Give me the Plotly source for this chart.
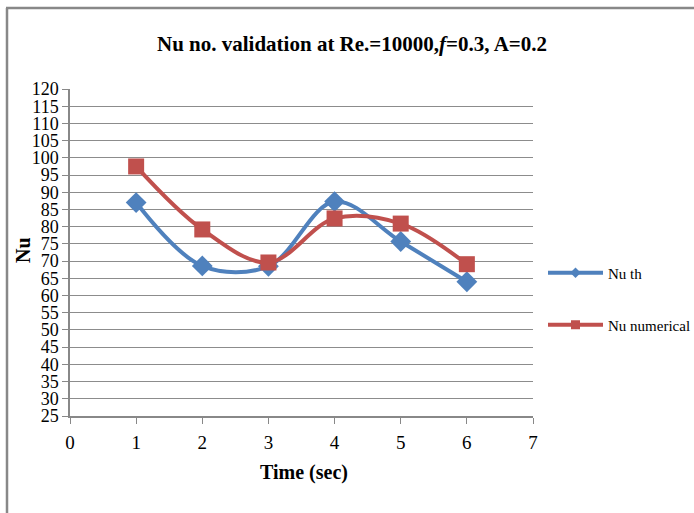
import plotly.graph_objects as go

time_sec = [1, 2, 3, 4, 5, 6]
nu_th = [87.0, 68.6, 68.5, 87.3, 75.7, 64.0]
nu_numerical = [97.5, 79.2, 69.6, 82.4, 80.9, 69.1]

y_ticks = list(range(25, 121, 5))
x_ticks = list(range(0, 8))

BLUE = "#4F81BD"
RED = "#C0504D"
FONT = "Liberation Serif"

W, H = 694, 513
L, R, T, B = 70, 161, 89, 97
pw, ph = W - L - R, H - T - B

def px(p):
    return (p - L) / pw

def py(p):
    return (H - B - p) / ph

fig = go.Figure()
fig.add_trace(go.Scatter(
    x=time_sec, y=nu_th, name="Nu th", mode="lines+markers",
    line=dict(color=BLUE, width=4, shape="spline", smoothing=1.0),
    marker=dict(symbol="diamond", size=16, color=BLUE),
    showlegend=False,
))
fig.add_trace(go.Scatter(
    x=time_sec, y=nu_numerical, name="Nu numerical", mode="lines+markers",
    line=dict(color=RED, width=4, shape="spline", smoothing=1.0),
    marker=dict(symbol="square", size=16, color=RED),
    showlegend=False,
))
# legend-only entries with small markers, as in the reference legend
fig.add_trace(go.Scatter(
    x=[None], y=[None], name="Nu th", mode="lines+markers",
    line=dict(color=BLUE, width=4), marker=dict(symbol="diamond", size=8, color=BLUE),
    legend="legend",
))
fig.add_trace(go.Scatter(
    x=[None], y=[None], name="Nu numerical", mode="lines+markers",
    line=dict(color=RED, width=4), marker=dict(symbol="square", size=9, color=RED),
    legend="legend2",
))

leg = dict(xanchor="left", yanchor="middle", font=dict(size=15, family=FONT),
           bgcolor="rgba(0,0,0,0)", itemwidth=55)

fig.update_layout(
    width=W, height=H,
    margin=dict(l=L, r=R, t=T, b=B, autoexpand=False),
    paper_bgcolor="white", plot_bgcolor="white",
    font=dict(family=FONT, color="black", size=16),
    showlegend=True,
    legend=dict(x=px(543), y=py(273), **leg),
    legend2=dict(x=px(543), y=py(325), **leg),
    xaxis=dict(range=[0, 7], tickvals=x_ticks, ticktext=[str(v) for v in x_ticks],
               showgrid=False, zeroline=False, showline=True, linecolor="#888888",
               linewidth=1.5, ticks="outside", ticklen=6, tickcolor="#888888",
               tickfont=dict(size=19, family=FONT), ticklabelstandoff=2),
    yaxis=dict(range=[25, 120], tickvals=y_ticks, ticktext=[str(v) for v in y_ticks],
               showgrid=True, gridcolor="#8c8c8c", gridwidth=1.2, zeroline=False,
               showline=True, linecolor="#888888", linewidth=1.5,
               ticks="outside", ticklen=6, tickcolor="#888888",
               tickfont=dict(size=18, family=FONT), ticklabelstandoff=0),
    annotations=[
        dict(text="<b>Nu no. validation at Re.=10000,<i>f</i>=0.3, A=0.2</b>",
             x=px(352), y=py(44), xref="paper", yref="paper", showarrow=False,
             font=dict(size=21, family=FONT), xanchor="center", yanchor="middle"),
        dict(text="<b>Time (sec)</b>", x=px(304), y=py(472), xref="paper", yref="paper",
             showarrow=False, font=dict(size=20, family=FONT),
             xanchor="center", yanchor="middle"),
        dict(text="<b>Nu</b>", x=px(23), y=py(250), xref="paper", yref="paper",
             showarrow=False, font=dict(size=20, family=FONT), textangle=-90,
             xanchor="center", yanchor="middle"),
    ],
    shapes=[
        dict(type="line", xref="paper", yref="paper", x0=px(7), x1=px(7),
             y0=py(8), y1=py(530), line=dict(color="#888888", width=2.5)),
        dict(type="line", xref="paper", yref="paper", x0=px(6), x1=px(710),
             y0=py(8), y1=py(8), line=dict(color="#888888", width=2.5)),
    ],
)

fig.write_html("out.html")
